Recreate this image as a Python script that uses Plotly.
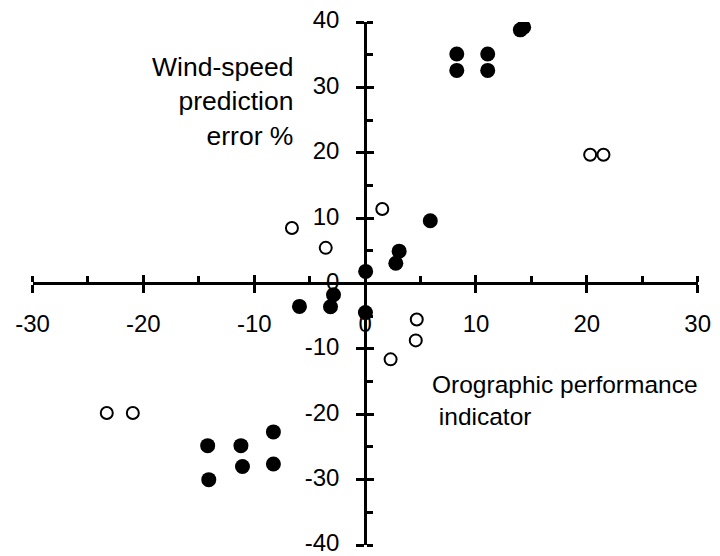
import plotly.graph_objects as go

# Filled markers
filled_x = [8.27, 8.27, 11.06, 11.06, 14.0, 14.3, 5.88, 3.07, 2.77, 0.05, -2.85, -3.12,
            -5.92, 0.03, -14.2, -14.1, -11.2, -11.06, -8.27, -8.27]
filled_y = [35.1, 32.6, 35.1, 32.6, 38.8, 39.2, 9.6, 4.95, 3.1, 1.85, -1.73, -3.55,
            -3.5, -4.45, -24.8, -30.0, -24.8, -28.0, -22.7, -27.6]

# Open markers
open_x = [20.3, 21.5, -6.6, -3.55, 1.55, 4.66, 4.57, 2.3, -23.3, -20.95]
open_y = [19.7, 19.7, 8.5, 5.45, 11.4, -5.5, -8.7, -11.6, -19.8, -19.8]

x_ticks = [-30, -20, -10, 0, 10, 20, 30]
x_tick_labels = ["-30", "-20", "-10", "0", "10", "20", "30"]
y_ticks = [-40, -30, -20, -10, 0, 10, 20, 30, 40]
y_tick_labels = ["-40", "-30", "-20", "-10", "0", "10", "20", "30", "40"]

x_range = [-30, 30]
y_range = [-40, 40]

W, H = 720, 556
x_left_px, x_right_px = 32.5, 697.7
y_top_px, y_bot_px = 22.0, 545.0
x0_px, y0_px = 365.0, 283.0

font_family = "Liberation Sans, Arial, sans-serif"

fig = go.Figure()
fig.add_trace(go.Scatter(
    x=open_x, y=open_y, mode="markers",
    marker=dict(size=12, color="white", line=dict(color="black", width=2)),
    hoverinfo="skip", showlegend=False))
fig.add_trace(go.Scatter(
    x=filled_x, y=filled_y, mode="markers",
    marker=dict(size=15, color="black", line=dict(width=0)),
    hoverinfo="skip", showlegend=False))
# dummy trace to activate overlay axes (for ticks crossing the axis lines)
fig.add_trace(go.Scatter(x=[None], y=[None], xaxis="x2", yaxis="y2",
                         mode="markers", showlegend=False, hoverinfo="skip"))

xdom = [x_left_px / W, x_right_px / W]
ydom = [(H - y_bot_px) / H, (H - y_top_px) / H]
xpos = (H - y0_px) / H
ypos = x0_px / W

common_tick = dict(tickcolor="black", tickwidth=2.5, showgrid=False, zeroline=False,
                   automargin=False)

fig.update_layout(
    width=W, height=H, margin=dict(l=0, r=0, t=0, b=0, autoexpand=False),
    paper_bgcolor="white", plot_bgcolor="white",
    font=dict(family=font_family, size=24, color="black"),
    xaxis=dict(domain=xdom, range=x_range, anchor="free", position=xpos,
               showline=True, linecolor="black", linewidth=2.5,
               ticks="outside", ticklen=8,
               tickmode="array", tickvals=x_ticks, ticktext=x_tick_labels,
               minor=dict(ticks="inside", ticklen=6, tickmode="linear", tick0=0, dtick=5,
                          tickcolor="black", tickwidth=2.5),
               ticklabelstandoff=10, ticklabeloverflow="allow", layer="below traces",
               tickfont=dict(size=24, family=font_family), **common_tick),
    yaxis=dict(domain=ydom, range=y_range, anchor="free", position=ypos,
               showline=True, linecolor="black", linewidth=2.5,
               ticks="outside", ticklen=8,
               tickmode="array", tickvals=y_ticks, ticktext=y_tick_labels,
               minor=dict(ticks="inside", ticklen=6, tickmode="linear", tick0=0, dtick=5,
                          tickcolor="black", tickwidth=2.5),
               ticklabelstandoff=12, ticklabelshift=-2, ticklabeloverflow="allow",
               layer="below traces",
               tickfont=dict(size=24, family=font_family), **common_tick),
    xaxis2=dict(domain=xdom, range=x_range, overlaying="x", anchor="free", position=xpos,
                showline=False, ticks="inside", ticklen=8,
                tickmode="array", tickvals=x_ticks,
                showticklabels=False, layer="below traces", **common_tick),
    yaxis2=dict(domain=ydom, range=y_range, overlaying="y", anchor="free", position=ypos,
                showline=False, ticks="inside", ticklen=8,
                tickmode="array", tickvals=y_ticks,
                showticklabels=False, layer="below traces", **common_tick),
)

fig.add_annotation(x=-6.3, y=27.8, xref="x", yref="y",
                   text="Wind-speed<br>prediction<br>error %",
                   showarrow=False, xanchor="right", yanchor="middle", align="right",
                   font=dict(size=26.5, family=font_family, color="black"))
fig.add_annotation(x=5.86, y=-17.9, xref="x", yref="y",
                   text="Orographic performance<br>\u00a0indicator",
                   showarrow=False, xanchor="left", yanchor="middle", align="left",
                   font=dict(size=24.5, family=font_family, color="black"))

fig.write_html("out.html")
